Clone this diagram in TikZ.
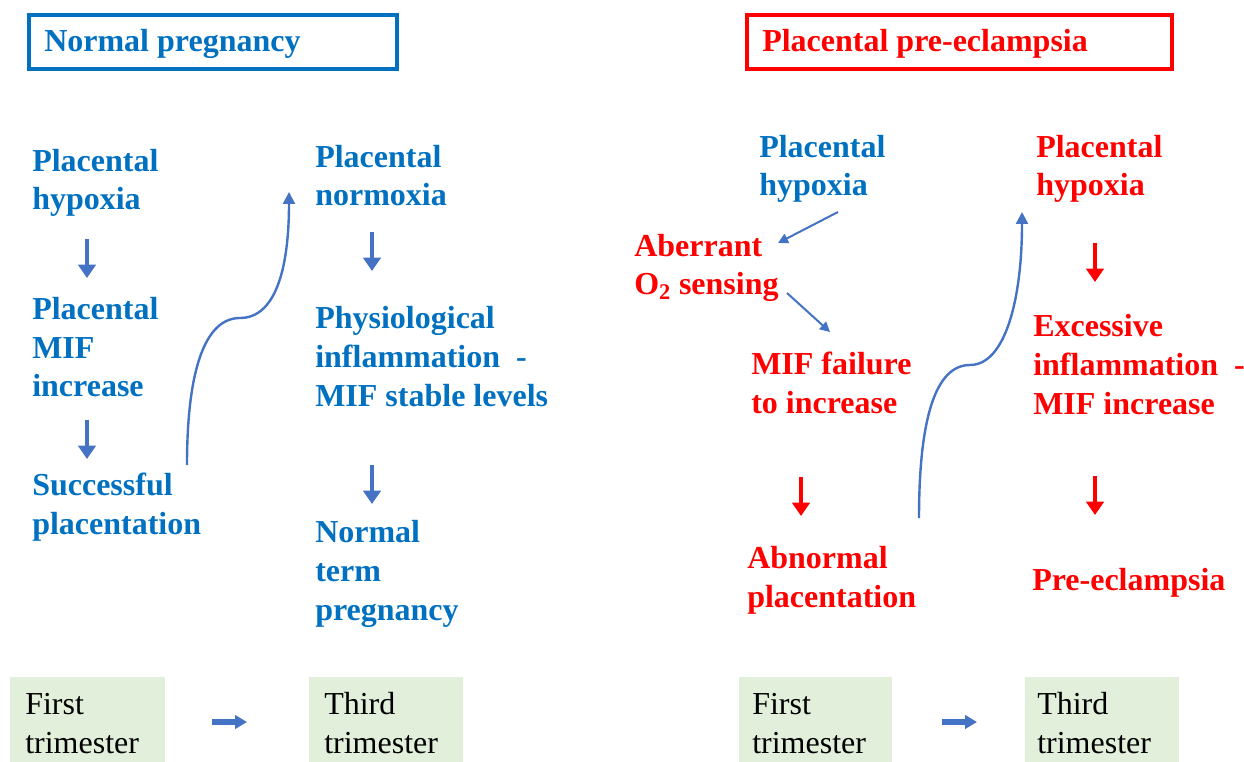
\documentclass[tikz,border=0pt]{standalone}
\usepackage{fontspec}
\setmainfont{Liberation Serif}
\usetikzlibrary{arrows.meta}
\definecolor{tblue}{RGB}{0,112,192}
\definecolor{ablue}{RGB}{68,114,196}
\definecolor{tred}{RGB}{255,0,0}
\definecolor{tgreen}{RGB}{226,239,218}
\tikzset{
  lbl/.style={anchor=base west, inner sep=0pt, align=left, font=\fontsize{24}{29}\selectfont\bfseries},
  bluet/.style={lbl, text=tblue},
  redt/.style={lbl, text=tred},
  plaint/.style={anchor=base west, inner sep=0pt, align=left, font=\fontsize{24}{29}\selectfont, text=black},
  downarr/.style={line width=2.6pt, -{Triangle[width=13pt,length=10pt]}},
  bluedown/.style={downarr, draw=ablue},
  reddown/.style={downarr, draw=tred},
  curvearr/.style={draw=ablue, line width=1.8pt, -{Triangle[width=9pt,length=9pt]}},
  thinarr/.style={draw=ablue, line width=1.5pt, -{Triangle[width=7.5pt,length=7.5pt]}},
  timearr/.style={draw=ablue, line width=4.2pt, -{Triangle[width=10pt,length=9pt]}},
  gbox/.style={fill=tgreen, draw=none, anchor=north west, inner sep=0pt},
  titlebox/.style={line width=2.3pt, fill=white},
}
\begin{document}
\begin{tikzpicture}[x=0.75pt, y=-0.75pt]
\useasboundingbox (0,0) rectangle (1244,762);

% ---- titles ----
\draw[titlebox, draw=tblue] (29,15) rectangle (397,69);
\node[bluet] (tnorm) at (44,52) {Normal pregnancy};
\draw[titlebox, draw=tred] (747,15) rectangle (1172,69);
\node[redt] (tpre) at (762,52) {Placental pre-eclampsia};

% (multi-line nodes are placed at the baseline of their last line)
% ---- normal pregnancy, column 1 ----
\node[bluet] (n1) at (32,210) {Placental\\hypoxia};
\node[bluet] (n2) at (32,397) {Placental\\MIF\\increase};
\node[bluet] (n3) at (32,534) {Successful\\placentation};
\coordinate (a1s) at (87,239); \coordinate (a1e) at (87,278);
\coordinate (a2s) at (87,420); \coordinate (a2e) at (87,459);
\draw[bluedown] (a1s) -- (a1e);
\draw[bluedown] (a2s) -- (a2e);

% ---- normal pregnancy, column 2 ----
\node[bluet] (m1) at (315,206) {Placental\\normoxia};
\node[bluet] (m2) at (315,406) {Physiological\\inflammation\ \ -\\MIF stable levels};
\node[bluet] (m3) at (315,620) {Normal\\term\\pregnancy};
\coordinate (b1s) at (372,232); \coordinate (b1e) at (372,271);
\coordinate (b2s) at (372,465); \coordinate (b2e) at (372,504);
\draw[bluedown] (b1s) -- (b1e);
\draw[bluedown] (b2s) -- (b2e);

% curved arrow left
\coordinate (c1s) at (187,465);
\coordinate (c1m) at (240,318);
\coordinate (c1e) at (289,192);
\draw[curvearr] (c1s) .. controls (187,370) and (205,318) .. (c1m)
  .. controls (275,318) and (289,270) .. (c1e);

% ---- pre-eclampsia ----
\node[bluet] (p1) at (759,196) {Placental\\hypoxia};
\node[redt] (p2) at (634,295) {Aberrant\\O\textsubscript{2} sensing};
\node[redt] (p3) at (751,413) {MIF failure\\to increase};
\node[redt] (p4) at (747,607) {Abnormal\\placentation};
\coordinate (t1s) at (838,212); \coordinate (t1e) at (778,243);
\coordinate (t2s) at (787,293); \coordinate (t2e) at (830,332);
\draw[thinarr] (t1s) -- (t1e);
\draw[thinarr] (t2s) -- (t2e);
\coordinate (r1s) at (801,477); \coordinate (r1e) at (801,516);
\draw[reddown] (r1s) -- (r1e);

\node[redt] (q1) at (1036,196) {Placental\\hypoxia};
\node[redt] (q2) at (1033,414) {Excessive\\inflammation\ \ -\\MIF increase};
\node[redt] (q3) at (1032,590) {Pre-eclampsia};
\coordinate (s1s) at (1095,243); \coordinate (s1e) at (1095,282);
\coordinate (s2s) at (1095,476); \coordinate (s2e) at (1095,515);
\draw[reddown] (s1s) -- (s1e);
\draw[reddown] (s2s) -- (s2e);

% curved arrow right
\coordinate (c2s) at (919,518);
\coordinate (c2m) at (970,365);
\coordinate (c2e) at (1022,212);
\draw[curvearr] (c2s) .. controls (919,420) and (935,365) .. (c2m)
  .. controls (1005,365) and (1022,300) .. (c2e);

% ---- trimester boxes ----
\node[gbox, minimum width=116.25pt, minimum height=64pt] (g1) at (10,677) {};
\node[plaint] (g1t) at (25,753) {First\\trimester};
\node[gbox, minimum width=115.5pt, minimum height=64pt] (g2) at (309,677) {};
\node[plaint] (g2t) at (324,753) {Third\\trimester};
\coordinate (h1s) at (212,722); \coordinate (h1e) at (247,722);
\draw[timearr] (h1s) -- (h1e);

\node[gbox, minimum width=114.75pt, minimum height=64pt] (g3) at (739,677) {};
\node[plaint] (g3t) at (752,753) {First\\trimester};
\node[gbox, minimum width=115.5pt, minimum height=64pt] (g4) at (1025,677) {};
\node[plaint] (g4t) at (1037,753) {Third\\trimester};
\coordinate (h2s) at (942,722); \coordinate (h2e) at (977,722);
\draw[timearr] (h2s) -- (h2e);
\end{tikzpicture}
\end{document}
